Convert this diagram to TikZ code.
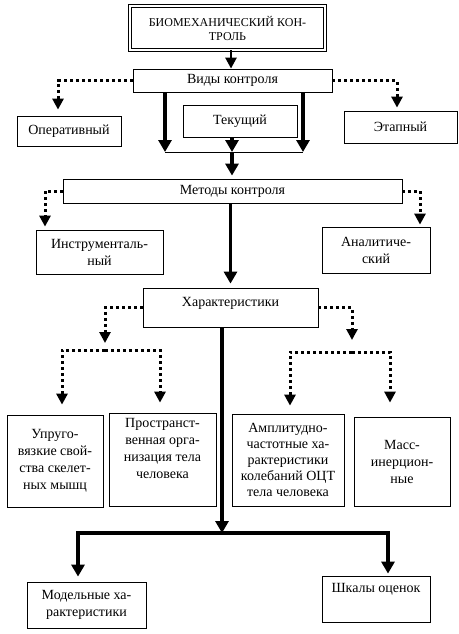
\documentclass[tikz,border=0pt]{standalone}
\usepackage{fontspec}
\setmainfont{Liberation Serif}
\usetikzlibrary{arrows.meta,positioning}
\tikzstyle{box} = [rectangle, draw=black, line width=0.8pt, text centered, align=center, inner sep=2pt]
\tikzstyle{dotarrow} = [line width=3pt, dash pattern=on 3pt off 3pt, -{Triangle[width=11pt,length=11pt]}]
\tikzstyle{thickarrow} = [line width=3.5pt, -{Triangle[width=13pt,length=12pt]}]
\tikzstyle{midarrow} = [line width=2.5pt, -{Triangle[width=11pt,length=11pt]}]

\begin{document}
\begin{tikzpicture}[x=1pt, y=-1pt, font=\fontsize{14}{17}\selectfont]
\useasboundingbox (0,0) rectangle (458,634);

% Top
\node[box, double, double distance=1.5pt, minimum width=195pt, minimum height=44pt, font=\fontsize{12}{14}\selectfont] (bio) at (227.5,28) {БИОМЕХАНИЧЕСКИЙ КОН-\\ТРОЛЬ};

% Kinds of control
\node[box, minimum width=199pt, minimum height=23pt] (vid) at (232.5,80.5) {Виды контроля};
\node[box, minimum width=104pt, minimum height=30pt] (oper) at (69,131) {Оперативный};
\node[box, minimum width=114pt, minimum height=32pt] (tek) at (240,121) {Текущий};
\node[box, minimum width=113pt, minimum height=32pt] (etap) at (400.5,127) {Этапный};

% Methods
\node[box, minimum width=339pt, minimum height=24pt] (met) at (232.5,191) {Методы контроля};
\node[box, minimum width=127pt, minimum height=44pt] (instr) at (99.5,252) {Инструменталь-\\ный};
\node[box, minimum width=108pt, minimum height=46pt] (anal) at (376,250) {Аналитиче-\\ский};

% Characteristics
\node[box, minimum width=175pt, minimum height=39pt, text depth=12pt] (har) at (230.5,307.5) {Характеристики};
\node[box, minimum width=96pt, minimum height=92pt] (upr) at (55,461) {Упруго-\\вязкие свой-\\ства скелет-\\ных мышц};
\node[box, minimum width=107pt, minimum height=93pt] (prost) at (162.5,459.5) {Пространст-\\венная орга-\\низация тела\\человека\\\strut};
\node[box, minimum width=112pt, minimum height=92pt, font=\fontsize{14}{16}\selectfont] (ampl) at (288,460) {Амплитудно-\\частотные ха-\\рактеристики\\колебаний ОЦТ\\тела человека};
\node[box, minimum width=96pt, minimum height=89pt] (mass) at (402,461.5) {Масс-\\инерцион-\\ные};

% Bottom
\node[box, minimum width=119pt, minimum height=46pt] (model) at (86.5,605) {Модельные ха-\\рактеристики};
\node[box, minimum width=108pt, minimum height=46pt] (shkal) at (376,599) {Шкалы оценок\\\strut};

% Split points
\coordinate (jl) at (165,152);
\coordinate (jm) at (232,152);
\coordinate (jr) at (303,152);
\coordinate (lsplit) at (105,350);
\coordinate (rsplit) at (352,352);
\coordinate (bsplit) at (222,533);

\draw[midarrow] ([xshift=3.5pt]bio.south) -- ([xshift=-1.5pt]vid.north);
\draw[dotarrow] (vid.west) -| ([xshift=-11pt,yshift=6pt]oper.north);
\draw[dotarrow] (vid.east) -| ([xshift=-3.5pt,yshift=3pt]etap.north);

\draw[thickarrow] (vid.south -| jl) -- (jl);
\draw[thickarrow] (vid.south -| jr) -- (jr);
\draw[thickarrow] (tek.south -| jm) -- (jm);
\draw[line width=0.8pt] (jl) -- (jr);
\draw[thickarrow] (jm) -- ([yshift=3pt]met.north -| jm);

\draw[dotarrow] (met.west) -| ([xshift=-54.5pt,yshift=3pt]instr.north);
\draw[dotarrow] (met.east) -| ([xshift=44pt,yshift=2pt]anal.north);
\draw[thickarrow] (met.south -| har) -- ([yshift=4pt]har.north);

\draw[dotarrow] (har.west) -| ([yshift=7pt]lsplit);
\draw[dotarrow] (lsplit) -| ([xshift=7pt,yshift=10pt]upr.north);
\draw[dotarrow] (lsplit) -| ([xshift=-2.5pt,yshift=10pt]prost.north);
\draw[dotarrow] (har.east) -| ([yshift=12pt]rsplit);
\draw[dotarrow] (rsplit) -| ([xshift=2pt,yshift=8pt]ampl.north);
\draw[dotarrow] (rsplit) -| ([xshift=-12pt,yshift=14pt]mass.north);

\draw[thickarrow] ([xshift=-8.5pt]har.south) -- (bsplit);
\draw[thickarrow] (bsplit) -| ([xshift=-8.5pt,yshift=5pt]model.north);
\draw[thickarrow] (bsplit) -| ([xshift=12pt,yshift=2pt]shkal.north);
\end{tikzpicture}
\end{document}
